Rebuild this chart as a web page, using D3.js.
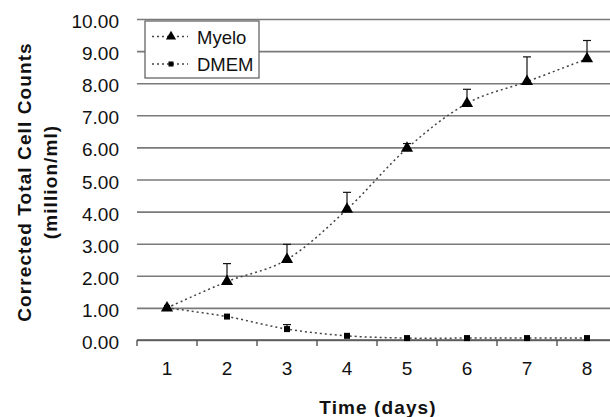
<!DOCTYPE html>
<html>
<head>
<meta charset="utf-8">
<script src="https://cdn.jsdelivr.net/npm/d3@7"></script>
<style>
  body { margin: 0; background: #fff; }
  text { font-family: "Liberation Sans", Arial, sans-serif; fill: #111; }
</style>
</head>
<body>
<div class="chart"></div>
<script>
// chart data
var days = [1, 2, 3, 4, 5, 6, 7, 8];
var myelo = [1.00, 1.82, 2.51, 4.07, 5.97, 7.37, 8.05, 8.76];
var myeloErr = [0.02, 0.56, 0.47, 0.53, 0.15, 0.44, 0.77, 0.57];
var dmem = [1.00, 0.73, 0.34, 0.13, 0.06, 0.06, 0.06, 0.06];
var dmemErr = [0.00, 0.03, 0.14, 0.02, 0.01, 0.01, 0.01, 0.01];
var yTicks = [0, 1, 2, 3, 4, 5, 6, 7, 8, 9, 10];

var svgWidth = 610;
var svgHeight = 417;
var margin = { top: 19, right: -7, bottom: 77, left: 137 };
var width = svgWidth - margin.left - margin.right;
var height = svgHeight - margin.top - margin.bottom;

var svg = d3.select(".chart")
  .append("svg")
  .attr("width", svgWidth)
  .attr("height", svgHeight);

var chartGroup = svg.append("g")
  .attr("transform", `translate(${margin.left},${margin.top})`);

var xScale = d3.scaleBand().domain(days).range([0, width]);
var yScale = d3.scaleLinear().domain([0, 10]).range([height, 0]);
var cx = d => xScale(d) + xScale.bandwidth() / 2;

// gridlines + y labels
var leftAxis = d3.axisLeft(yScale)
  .tickValues(yTicks)
  .tickSize(-width)
  .tickPadding(18)
  .tickFormat(d3.format(".2f"));

var yG = chartGroup.append("g").call(leftAxis);
yG.select(".domain").remove();
yG.selectAll("line").attr("stroke", "#7a7a7a").attr("stroke-width", 1.6);
yG.selectAll("text").attr("font-size", 19).attr("dy", "0.45em").style("fill", "#111");

// x axis line with ticks between categories
var xG = chartGroup.append("g").attr("transform", `translate(0,${height})`);
xG.append("line").attr("x1", 0).attr("x2", width)
  .attr("stroke", "#555").attr("stroke-width", 1.6);
var edges = days.map(d => xScale(d)).concat([width]);
xG.selectAll(".edge").data(edges).enter().append("line")
  .attr("x1", d => d).attr("x2", d => d)
  .attr("y1", 0).attr("y2", 6)
  .attr("stroke", "#555").attr("stroke-width", 1.4);

var bottomAxis = d3.axisBottom(xScale).tickSize(0).tickPadding(22);
var xLab = chartGroup.append("g").attr("transform", `translate(0,${height})`).call(bottomAxis);
xLab.select(".domain").remove();
xLab.selectAll("text").attr("font-size", 19).style("fill", "#111");

// series
var series = [
  { name: "Myelo", values: myelo, err: myeloErr, shape: d3.symbolTriangle, size: 64 },
  { name: "DMEM", values: dmem, err: dmemErr, shape: d3.symbolSquare, size: 36 }
];

var line = d3.line()
  .x((d, i) => cx(days[i]))
  .y(d => yScale(d))
  .curve(d3.curveCardinal.tension(0));

series.forEach(function(s) {
  chartGroup.append("path")
    .datum(s.values)
    .attr("d", line)
    .attr("fill", "none")
    .attr("stroke", "#444")
    .attr("stroke-width", 1.5)
    .attr("stroke-dasharray", "2,3");

  // upper error bars
  var eb = chartGroup.append("g");
  s.values.forEach(function(v, i) {
    if (s.err[i] < 0.05) return;
    var x = cx(days[i]);
    eb.append("line").attr("x1", x).attr("x2", x)
      .attr("y1", yScale(v)).attr("y2", yScale(v + s.err[i]))
      .attr("stroke", "#111").attr("stroke-width", 1.2);
    eb.append("line").attr("x1", x - 4).attr("x2", x + 4)
      .attr("y1", yScale(v + s.err[i])).attr("y2", yScale(v + s.err[i]))
      .attr("stroke", "#111").attr("stroke-width", 1.2);
  });

  chartGroup.selectAll(".m-" + s.name)
    .data(s.values)
    .enter()
    .append("path")
    .attr("d", d3.symbol().type(s.shape).size(s.size))
    .attr("transform", (d, i) => `translate(${cx(days[i])},${yScale(d)})`)
    .attr("fill", "#000");
});

// legend
var legend = svg.append("g").attr("transform", "translate(145,21)");
legend.append("rect")
  .attr("width", 114).attr("height", 57)
  .attr("fill", "#fff").attr("stroke", "#666").attr("stroke-width", 1.3);

series.forEach(function(s, i) {
  var ly = 15.5 + i * 27.5;
  legend.append("line").attr("x1", 7).attr("x2", 43)
    .attr("y1", ly).attr("y2", ly)
    .attr("stroke", "#444").attr("stroke-width", 1.5)
    .attr("stroke-dasharray", "2,3");
  legend.append("path")
    .attr("d", d3.symbol().type(s.shape).size(s.size * 0.7))
    .attr("transform", `translate(26,${ly})`)
    .attr("fill", "#000");
  legend.append("text")
    .attr("x", 52).attr("y", ly).attr("dy", "0.38em")
    .attr("font-size", 18.5)
    .text(s.name);
});

// axis titles
svg.append("text")
  .attr("transform", "translate(24,182) rotate(-90)")
  .attr("text-anchor", "middle")
  .attr("dy", "0.35em")
  .attr("font-size", 19)
  .attr("letter-spacing", 1.1)
  .attr("font-weight", "bold")
  .text("Corrected Total Cell Counts");

svg.append("text")
  .attr("transform", "translate(50,182) rotate(-90)")
  .attr("text-anchor", "middle")
  .attr("dy", "0.35em")
  .attr("font-size", 19)
  .attr("letter-spacing", 1.1)
  .attr("font-weight", "bold")
  .text("(million/ml)");

svg.append("text")
  .attr("x", 378).attr("y", 407)
  .attr("text-anchor", "middle")
  .attr("dy", "0.35em")
  .attr("font-size", 19)
  .attr("letter-spacing", 1.1)
  .attr("font-weight", "bold")
  .text("Time (days)");
</script>
</body>
</html>
